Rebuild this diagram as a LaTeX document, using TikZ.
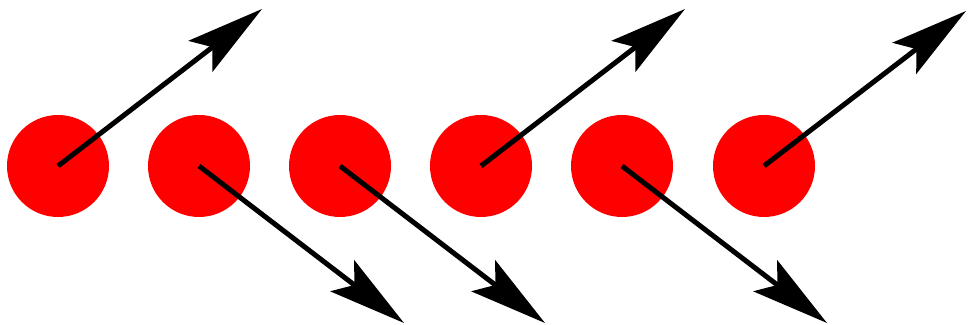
\documentclass[tikz,border=0pt]{standalone}
\usetikzlibrary{arrows.meta}

\begin{document}
\begin{tikzpicture}[
  >={Stealth[length=1.55cm, width=0.78cm, inset=0.3cm]},
% red spins
  site/.style={
    circle,
    fill=red,
    minimum size=2.04cm,
    inner sep=0pt
  },
% spin arrows
  spin/.style={
    ->,
    line width=0.1cm
  }
]
  \useasboundingbox (0,0) rectangle (19.36,6.5);

  % Sites in a row
  \node[site] (s1) at (1.16, 3.18) {};
  \node[site] (s2) at (3.98, 3.18) {};
  \node[site] (s3) at (6.80, 3.18) {};
  \node[site] (s4) at (9.62, 3.18) {};
  \node[site] (s5) at (12.44, 3.18) {};
  \node[site] (s6) at (15.28, 3.18) {};

  % Arrow ends (up or down)
  \coordinate (t1) at ([shift={(4.08, 3.14)}]s1.center);
  \coordinate (t2) at ([shift={(4.10,-3.14)}]s2.center);
  \coordinate (t3) at ([shift={(4.10,-3.14)}]s3.center);
  \coordinate (t4) at ([shift={(4.08, 3.14)}]s4.center);
  \coordinate (t5) at ([shift={(4.10,-3.14)}]s5.center);
  \coordinate (t6) at ([shift={(4.04, 3.10)}]s6.center);

  % Spins
  \draw[spin] (s1.center) -- (t1);
  \draw[spin] (s2.center) -- (t2);
  \draw[spin] (s3.center) -- (t3);
  \draw[spin] (s4.center) -- (t4);
  \draw[spin] (s5.center) -- (t5);
  \draw[spin] (s6.center) -- (t6);

\end{tikzpicture}
\end{document}
